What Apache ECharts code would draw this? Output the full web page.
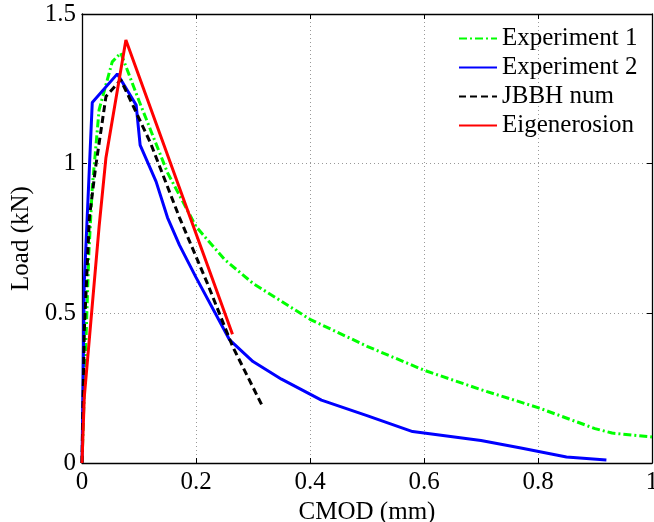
<!DOCTYPE html>
<html>
<head>
<meta charset="utf-8">
<script src="https://cdn.jsdelivr.net/npm/echarts@6/dist/echarts.min.js"></script>
<style>
  html, body { margin: 0; padding: 0; background: #fff; overflow: hidden; }
  #chart { width: 654px; height: 522px; }
</style>
</head>
<body>
<div id="chart"></div>
<script>
// CMOD (mm) vs load (kN) curves
const seriesNames = ['Experiment 1', 'Experiment 2', 'JBBH num', 'Eigenerosion'];

const experiment1 = [
  [0, 0], [0.005, 0.3], [0.012, 0.7], [0.018, 0.92], [0.03, 1.18], [0.053, 1.34],
  [0.068, 1.37], [0.1, 1.21], [0.15, 0.97], [0.2, 0.79], [0.25, 0.68], [0.3, 0.6],
  [0.4, 0.48], [0.5, 0.39], [0.6, 0.31], [0.7, 0.245], [0.8, 0.185], [0.9, 0.115],
  [0.93, 0.1], [1.0, 0.087]
];

const experiment2 = [
  [0, 0], [0.004, 0.6], [0.018, 1.204], [0.062, 1.3], [0.095, 1.196], [0.102, 1.062],
  [0.13, 0.94], [0.15, 0.82], [0.171, 0.728], [0.2, 0.62], [0.259, 0.411],
  [0.3, 0.339], [0.35, 0.28], [0.42, 0.21], [0.5, 0.158], [0.58, 0.105],
  [0.7, 0.075], [0.77, 0.05], [0.85, 0.02], [0.92, 0.01]
];

const jbbhNum = [
  [0, 0], [0.004, 0.44], [0.013, 0.82], [0.024, 0.99], [0.042, 1.224],
  [0.068, 1.28], [0.088, 1.2], [0.12, 1.07], [0.171, 0.82], [0.22, 0.6],
  [0.264, 0.39], [0.317, 0.188]
];

const eigenerosion = [
  [0, 0], [0.004, 0.22], [0.03, 0.79], [0.042, 1.02], [0.077, 1.413], [0.264, 0.43]
];

const xTickLabels = ['0', '0.2', '0.4', '0.6', '0.8', '1'];
const yTickLabels = ['0', '0.5', '1', '1.5'];

const FONT = "'Liberation Serif', 'Times New Roman', serif";
const gridLine = { show: true, lineStyle: { color: '#999', type: [1, 3], width: 1 } };
const axisLine = { show: true, onZero: false, lineStyle: { color: '#000', width: 1.3 } };
const tick = { show: true, inside: true, length: 5, lineStyle: { color: '#000', width: 1 } };

function tickFormatter(labels, step) {
  return v => labels[Math.round(v / step)] ?? '';
}

const chart = echarts.init(document.getElementById('chart'), null, { renderer: 'canvas' });

chart.setOption({
  animation: false,
  backgroundColor: '#fff',
  textStyle: { fontFamily: FONT },
  grid: { left: 82, right: 2, top: 14, bottom: 59, containLabel: false, outerBoundsMode: 'none' },
  legend: {
    data: seriesNames,
    orient: 'vertical',
    left: 453,
    top: 21,
    itemWidth: 38,
    itemHeight: 12,
    itemGap: 4,
    itemStyle: { opacity: 0 },
    textStyle: { fontFamily: FONT, fontSize: 25, color: '#000', lineHeight: 25 },
    backgroundColor: 'transparent'
  },
  xAxis: [
    {
      type: 'value', min: 0, max: 1, interval: 0.2,
      name: 'CMOD (mm)', nameLocation: 'middle', nameGap: 30,
      nameTextStyle: { fontFamily: FONT, fontSize: 25, color: '#000' },
      axisLine, axisTick: tick, splitLine: gridLine,
      axisLabel: { fontFamily: FONT, fontSize: 25, color: '#000', margin: 7,
                   formatter: tickFormatter(xTickLabels, 0.2) }
    },
    {
      type: 'value', min: 0, max: 1, interval: 0.2, position: 'top',
      axisLine, axisTick: tick, splitLine: { show: false }, axisLabel: { show: false }
    }
  ],
  yAxis: [
    {
      type: 'value', min: 0, max: 1.5, interval: 0.5,
      name: 'Load (kN)', nameLocation: 'middle', nameGap: 34,
      nameTextStyle: { fontFamily: FONT, fontSize: 25, color: '#000' },
      axisLine, axisTick: tick, splitLine: gridLine,
      axisLabel: { fontFamily: FONT, fontSize: 25, color: '#000', margin: 6,
                   formatter: tickFormatter(yTickLabels, 0.5) }
    },
    {
      type: 'value', min: 0, max: 1.5, interval: 0.5, position: 'right',
      axisLine, axisTick: tick, splitLine: { show: false }, axisLabel: { show: false }
    }
  ],
  series: [
    {
      name: seriesNames[0], type: 'line', data: experiment1, symbol: 'none',
      lineStyle: { color: '#00ff00', width: 3, type: [8, 3, 2, 3] },
      itemStyle: { color: '#00ff00' }
    },
    {
      name: seriesNames[1], type: 'line', data: experiment2, symbol: 'none',
      lineStyle: { color: '#0000ff', width: 3 },
      itemStyle: { color: '#0000ff' }
    },
    {
      name: seriesNames[2], type: 'line', data: jbbhNum, symbol: 'none',
      lineStyle: { color: '#000', width: 3, type: [7, 4] },
      itemStyle: { color: '#000' }
    },
    {
      name: seriesNames[3], type: 'line', data: eigenerosion, symbol: 'none',
      lineStyle: { color: '#ff0000', width: 3 },
      itemStyle: { color: '#ff0000' }
    }
  ]
});
</script>
</body>
</html>
